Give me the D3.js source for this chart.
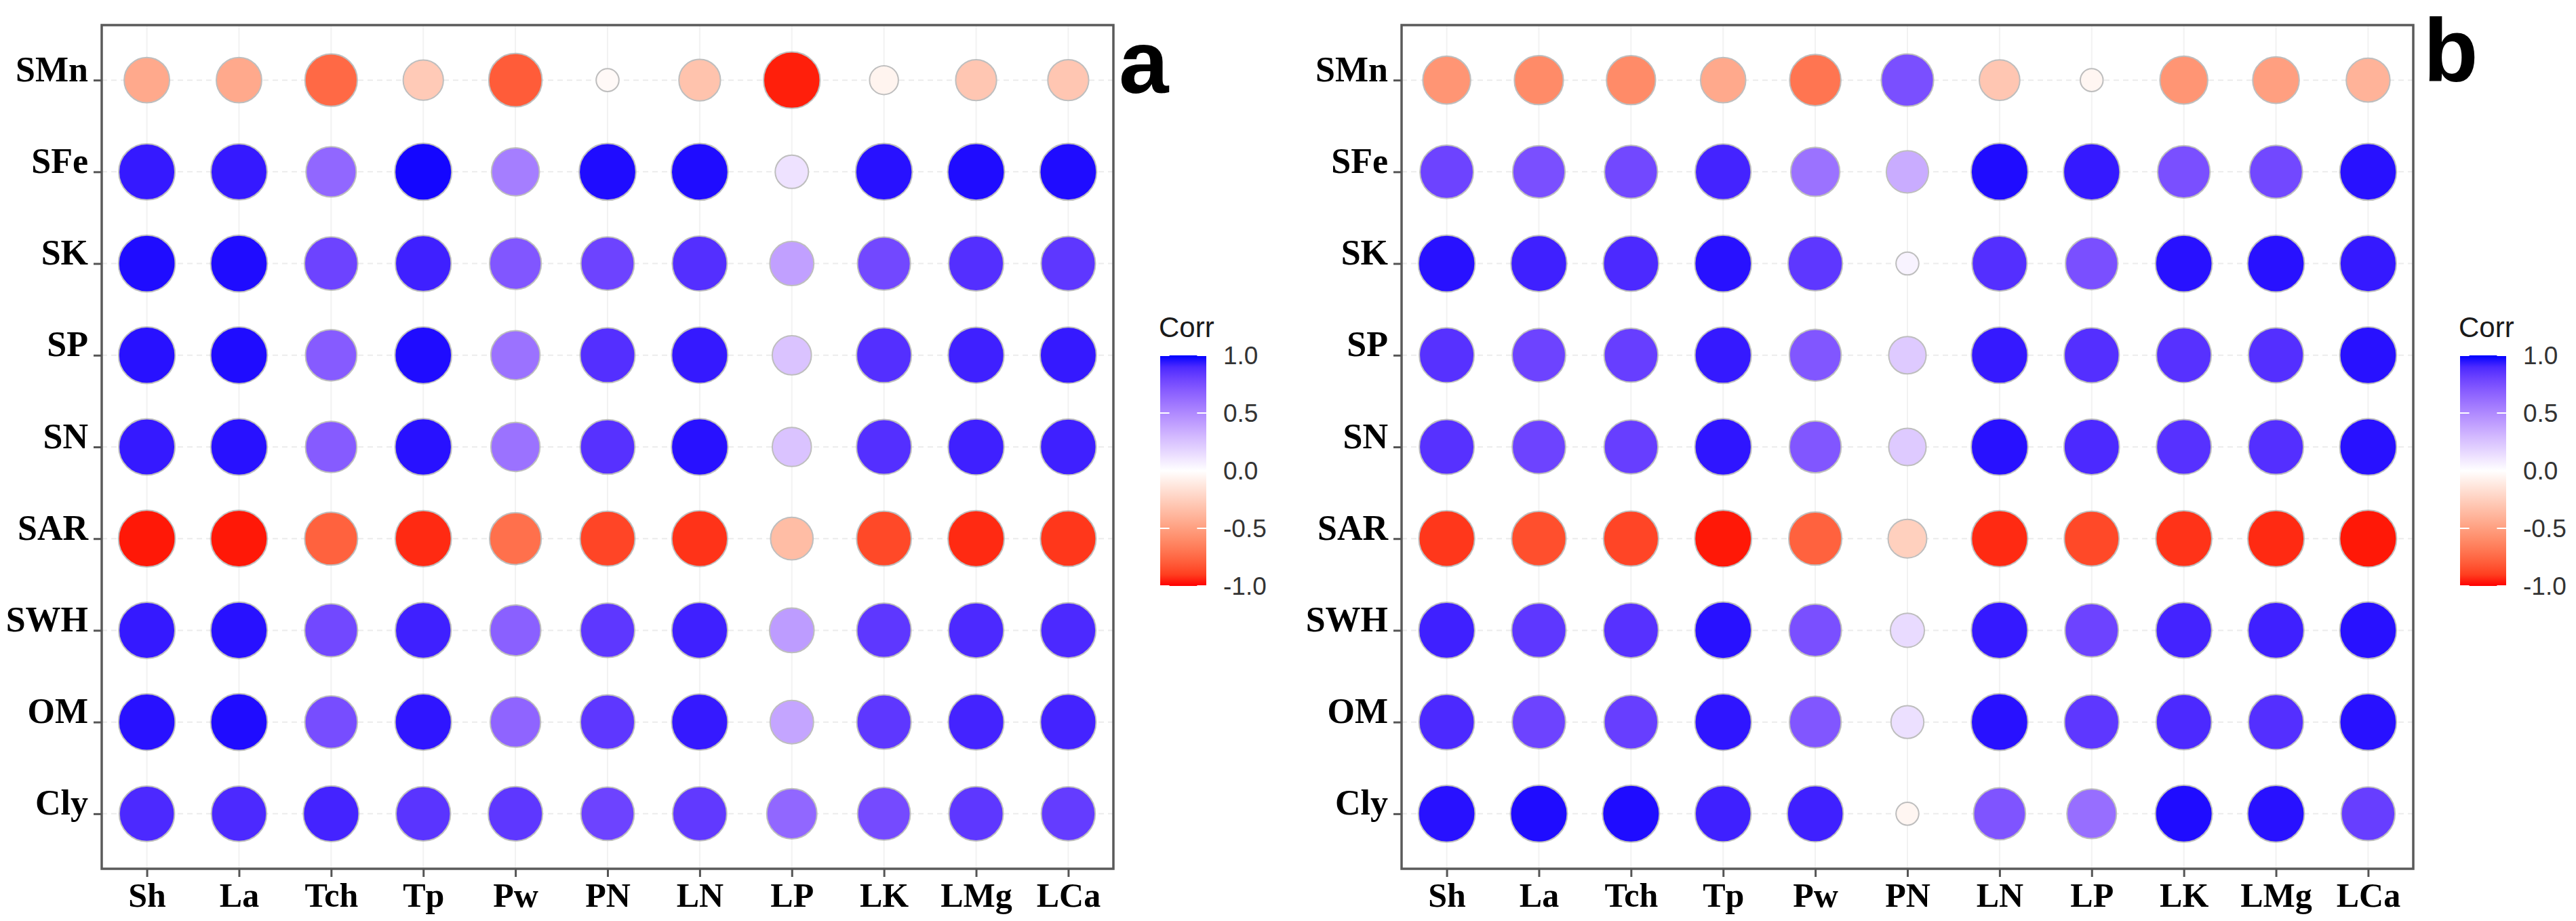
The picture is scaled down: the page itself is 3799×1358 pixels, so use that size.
<!DOCTYPE html>
<html>
<head>
<meta charset="utf-8">
<script src="https://cdn.jsdelivr.net/npm/d3@7"></script>
<style>
  body { margin: 0; background: #fff; }
</style>
</head>
<body>
<script>
// categories
var rowNames = ["SMn", "SFe", "SK", "SP", "SN", "SAR", "SWH", "OM", "Cly"];
var colNames = ["Sh", "La", "Tch", "Tp", "Pw", "PN", "LN", "LP", "LK", "LMg", "LCa"];

// correlations (one row per soil variable)
var corrA = [
  [-0.45, -0.45, -0.75, -0.28, -0.80, -0.03, -0.32, -0.97, -0.06, -0.30, -0.30],
  [ 0.95,  0.95,  0.65,  0.99,  0.55,  0.98,  0.98,  0.12,  0.97,  0.98,  0.98],
  [ 0.98,  0.98,  0.80,  0.93,  0.72,  0.80,  0.88,  0.40,  0.78,  0.88,  0.85],
  [ 0.97,  0.98,  0.70,  0.98,  0.60,  0.88,  0.95,  0.25,  0.88,  0.93,  0.95],
  [ 0.95,  0.97,  0.70,  0.97,  0.60,  0.87,  0.97,  0.25,  0.88,  0.93,  0.93],
  [-0.98, -0.98, -0.78, -0.95, -0.72, -0.88, -0.93, -0.35, -0.87, -0.95, -0.92],
  [ 0.95,  0.97,  0.78,  0.93,  0.68,  0.85,  0.93,  0.42,  0.85,  0.90,  0.90],
  [ 0.97,  0.98,  0.76,  0.96,  0.66,  0.85,  0.95,  0.38,  0.85,  0.92,  0.92],
  [ 0.90,  0.90,  0.92,  0.86,  0.85,  0.80,  0.84,  0.65,  0.77,  0.85,  0.83]
];

// correlations
var corrB = [
  [-0.55, -0.60, -0.60, -0.45, -0.70,  0.75, -0.30, -0.05, -0.55, -0.50, -0.40],
  [ 0.80,  0.75,  0.78,  0.92,  0.60,  0.35,  0.98,  0.95,  0.75,  0.78,  0.97],
  [ 0.97,  0.93,  0.90,  0.97,  0.85,  0.05,  0.88,  0.75,  0.97,  0.97,  0.95],
  [ 0.87,  0.80,  0.82,  0.95,  0.72,  0.22,  0.95,  0.88,  0.87,  0.88,  0.97],
  [ 0.87,  0.80,  0.82,  0.96,  0.72,  0.22,  0.97,  0.90,  0.87,  0.88,  0.97],
  [-0.92, -0.85, -0.88, -0.98, -0.78, -0.25, -0.95, -0.87, -0.93, -0.95, -0.98],
  [ 0.93,  0.85,  0.87,  0.97,  0.75,  0.15,  0.95,  0.80,  0.92,  0.93,  0.97],
  [ 0.90,  0.80,  0.82,  0.96,  0.72,  0.13,  0.97,  0.85,  0.90,  0.88,  0.97],
  [ 0.97,  0.98,  0.98,  0.93,  0.93, -0.05,  0.73,  0.62,  0.98,  0.97,  0.82]
];

var legendTicks = [1, 0.5, 0, -0.5, -1];
var panelLetters = ["a", "b"];

var svgW = 3799, svgH = 1358;
var panelW = 1492, plotTop = 37, plotBottom = 1281;
var maxR = 42;

var svg = d3.select("body")
  .append("svg")
  .attr("width", svgW)
  .attr("height", svgH);

var color = d3.scaleLinear()
  .domain([-1, 0, 1])
  .range(["#ff0000", "#ffffff", "#0000ff"])
  .interpolate(d3.interpolateLab);

// legend gradient
var grad = svg.append("defs").append("linearGradient")
  .attr("id", "corrGrad")
  .attr("x1", 0).attr("y1", 0).attr("x2", 0).attr("y2", 1);
d3.range(0, 1.0001, 0.05).forEach(function(t) {
  grad.append("stop")
    .attr("offset", t)
    .attr("stop-color", color(1 - 2 * t));
});

function drawPanel(x0, data, letter, letterX, letterY) {
  var g = svg.append("g");

  var x = d3.scalePoint().domain(colNames).range([x0, x0 + panelW]).padding(0.49);
  var y = d3.scalePoint().domain(rowNames).range([plotTop, plotBottom]).padding(0.6);

  // cells, flattened
  var cells = [];
  data.forEach(function(row, i) {
    row.forEach(function(v, j) {
      cells.push({ row: rowNames[i], col: colNames[j], value: v });
    });
  });

  // ggcorrplot style size: diameter 4..10 over sqrt of rescaled |r|
  var absExt = d3.extent(cells, function(d) { return Math.abs(d.value); });
  var t = d3.scaleLinear().domain(absExt).range([0, 1]);
  var size = d3.scaleLinear().domain([0, 1]).range([0.4 * maxR, maxR]);

  // faint grid
  g.selectAll(".hgrid").data(rowNames).enter().append("line")
    .attr("x1", x0).attr("x2", x0 + panelW)
    .attr("y1", function(d) { return y(d); })
    .attr("y2", function(d) { return y(d); })
    .attr("stroke", "#ececec")
    .attr("stroke-width", 2)
    .attr("stroke-dasharray", "8,6");
  g.selectAll(".vgrid").data(colNames).enter().append("line")
    .attr("y1", plotTop).attr("y2", plotBottom)
    .attr("x1", function(d) { return x(d); })
    .attr("x2", function(d) { return x(d); })
    .attr("stroke", "#f2f2f2")
    .attr("stroke-width", 2);

  g.selectAll("circle")
    .data(cells)
    .enter()
    .append("circle")
    .attr("cx", function(d) { return x(d.col); })
    .attr("cy", function(d) { return y(d.row); })
    .attr("r", function(d) { return size(Math.sqrt(t(Math.abs(d.value)))); })
    .attr("fill", function(d) { return color(d.value); })
    .attr("stroke", "#bebebe")
    .attr("stroke-width", 2);

  // frame
  g.append("rect")
    .attr("x", x0).attr("y", plotTop)
    .attr("width", panelW).attr("height", plotBottom - plotTop)
    .attr("fill", "none")
    .attr("stroke", "#5a5a5a")
    .attr("stroke-width", 3.5);

  // axes
  var yAxis = g.append("g")
    .attr("transform", "translate(" + x0 + ",0)")
    .call(d3.axisLeft(y).tickSize(12).tickPadding(8));
  var xAxis = g.append("g")
    .attr("transform", "translate(0," + plotBottom + ")")
    .call(d3.axisBottom(x).tickSize(12).tickPadding(8));

  [yAxis, xAxis].forEach(function(ax) {
    ax.select(".domain").remove();
    ax.selectAll(".tick line").attr("stroke", "#555").attr("stroke-width", 3);
    ax.selectAll(".tick text")
      .attr("fill", "#000")
      .style("font-family", "'Liberation Serif', 'Times New Roman', serif")
      .style("font-weight", "bold");
  });
  yAxis.selectAll(".tick text").style("font-size", "52px").attr("dy", "0.02em");
  xAxis.selectAll(".tick text").style("font-size", "50px").attr("y", 20).attr("dy", "0.71em");

  // legend
  var lx = x0 + panelW + 69, lw = 68;
  var ly = d3.scaleLinear().domain([-1, 1]).range([864, 524]);
  var leg = svg.append("g");
  leg.append("text")
    .attr("x", lx - 2).attr("y", 497)
    .style("font-family", "'Liberation Sans', Arial, sans-serif")
    .style("font-size", "42px")
    .attr("fill", "#1a1a1a")
    .text("Corr");
  leg.append("rect")
    .attr("x", lx).attr("y", ly(1))
    .attr("width", lw).attr("height", ly(-1) - ly(1))
    .attr("fill", "url(#corrGrad)");
  leg.selectAll(".tk").data(legendTicks).enter().append("g")
    .each(function(d) {
      var s = d3.select(this);
      s.append("line")
        .attr("x1", lx).attr("x2", lx + lw / 5)
        .attr("y1", ly(d)).attr("y2", ly(d))
        .attr("stroke", "#fff").attr("stroke-width", 2);
      s.append("line")
        .attr("x1", lx + lw * 4 / 5).attr("x2", lx + lw)
        .attr("y1", ly(d)).attr("y2", ly(d))
        .attr("stroke", "#fff").attr("stroke-width", 2);
    });
  leg.selectAll(".lbl").data(legendTicks).enter().append("text")
    .attr("x", lx + lw + 25)
    .attr("y", function(d) { return ly(d); })
    .attr("dy", "0.36em")
    .style("font-family", "'Liberation Sans', Arial, sans-serif")
    .style("font-size", "37px")
    .attr("fill", "#333")
    .text(function(d) { return d.toFixed(1); });

  // panel letter
  svg.append("text")
    .attr("x", letterX).attr("y", letterY)
    .style("font-family", "'Liberation Sans', Arial, sans-serif")
    .style("font-weight", "bold")
    .style("font-size", "132px")
    .attr("fill", "#000")
    .text(letter);
}

drawPanel(150, corrA, panelLetters[0], 1650, 137);
drawPanel(2067, corrB, panelLetters[1], 3574, 120);
</script>
</body>
</html>
